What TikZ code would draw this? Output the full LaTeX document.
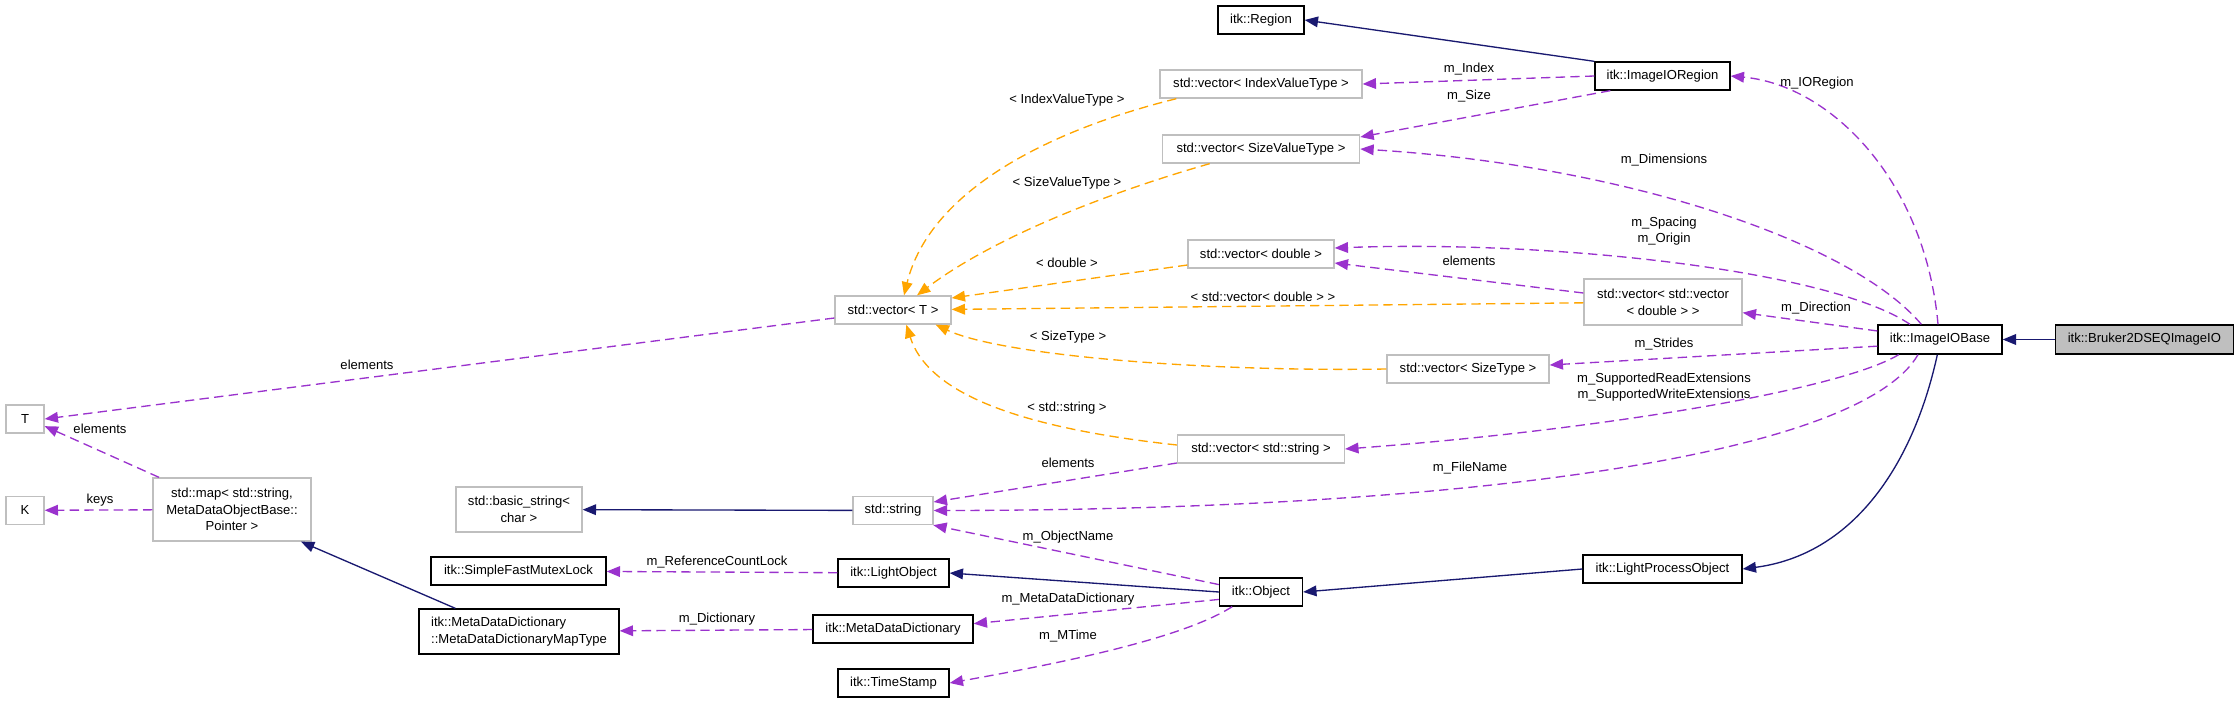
\documentclass[tikz,border=0pt]{standalone}
\usepackage{fontspec}
\setmainfont{Liberation Sans}
\usepackage{xcolor}
\usepackage{tikz}
\usetikzlibrary{positioning, arrows.meta}
\definecolor{inhblue}{HTML}{191970}
\definecolor{usepurple}{HTML}{9A32CD}
\definecolor{tplorange}{HTML}{FFA500}
\definecolor{boxgray}{HTML}{BFBFBF}

\begin{document}
\begin{tikzpicture}[
    x=0.75pt, y=-0.75pt,
    font=\fontsize{9.8}{12.5}\selectfont,
    docnode/.style={rectangle, draw=black, line width=1pt, fill=white, inner sep=0pt, minimum height=21pt, align=center},
    extnode/.style={rectangle, draw=boxgray, line width=1pt, fill=white, inner sep=0pt, minimum height=21pt, align=center},
    mainnode/.style={docnode, fill=boxgray},
    inherit/.style={draw=inhblue, line width=1pt, -{Triangle[length=10pt, width=8pt]}},
    member/.style={draw=usepurple, line width=1pt, dash pattern=on 7pt off 4pt, -{Triangle[length=10pt, width=8pt]}},
    templ/.style={draw=tplorange, line width=1pt, dash pattern=on 7pt off 4pt, -{Triangle[length=10pt, width=8pt]}},
    edgelabel/.style={inner sep=0pt, align=center},
    ]

    \useasboundingbox (0,0) rectangle (2237,703);

    \node[extnode, minimum width=28.5pt] (T) at (25,419) {T};
    \node[extnode, minimum width=28.5pt, below=46.5pt of T] (K) {K};
    \node[extnode, minimum width=118.5pt, minimum height=47.25pt] (map) at (232,509.5) {std::map< std::string,\\MetaDataObjectBase::\\Pointer >};
    \node[extnode, minimum width=94.5pt, minimum height=33.75pt] (bstring) at (519,509.5) {std::basic\_string<\\char >};
    \node[docnode, minimum width=131.25pt] (mutexlock) at (518.5,571) {itk::SimpleFastMutexLock};
    \node[docnode, minimum width=150pt, minimum height=33.75pt, align=left] (maptype) at (519,631.5) {itk::MetaDataDictionary\\::MetaDataDictionaryMapType};
    \node[extnode, minimum width=87pt] (vecT) at (893,310) {std::vector< T >};
    \node[extnode, minimum width=60pt] (string) at (893,510.5) {std::string};
    \node[docnode, minimum width=83.25pt] (lightobj) at (893.5,573) {itk::LightObject};
    \node[docnode, minimum width=120pt] (mdd) at (893,629) {itk::MetaDataDictionary};
    \node[docnode, minimum width=83.25pt] (timestamp) at (893.5,683) {itk::TimeStamp};
    \node[docnode, minimum width=64.5pt] (region) at (1261,20) {itk::Region};
    \node[extnode, minimum width=151.5pt] (vecIndex) at (1261,84) {std::vector< IndexValueType >};
    \node[extnode, minimum width=148pt] (vecSize) at (1261,149) {std::vector< SizeValueType >};
    \node[extnode, minimum width=109.5pt] (vecDouble) at (1261,254) {std::vector< double >};
    \node[extnode, minimum width=125.25pt] (vecString) at (1261,449) {std::vector< std::string >};
    \node[docnode, minimum width=62.25pt] (object) at (1261,592) {itk::Object};
    \node[docnode, minimum width=101.25pt] (ioregion) at (1662.5,76) {itk::ImageIORegion};
    \node[extnode, minimum width=118.5pt, minimum height=34.5pt] (vecVec) at (1663,302) {std::vector< std::vector\\< double > >};
    \node[extnode, minimum width=121.5pt] (vecSizeType) at (1468,369) {std::vector< SizeType >};
    \node[docnode, minimum width=119.25pt] (lpo) at (1662.5,569) {itk::LightProcessObject};
    \node[docnode, minimum width=93pt, minimum height=21.75pt] (iobase) at (1940,339.5) {itk::ImageIOBase};
    \node[mainnode, minimum width=133.5pt, minimum height=21.75pt, right=39pt of iobase] (bruker) {itk::Bruker2DSEQImageIO};

    \draw[inherit] (bruker) -- (iobase);
    \draw[inherit] ([xshift=-2pt]iobase.south) .. controls (1912,470) and (1850,555) .. (lpo.east);
    \draw[inherit] (lpo.west) -- (object.east);
    \draw[inherit] (object.west) -- (lightobj.east);
    \draw[inherit] (ioregion.north west) -- (region.east);
    \draw[inherit] (string) -- (bstring);
    \draw[inherit] (maptype.160) -- (map.-25);

    \draw[member] (ioregion.west) -- (vecIndex.east);
    \draw[member] ([xshift=12pt]ioregion.south west) -- ([yshift=9pt]vecSize.east);
    \draw[member] ([xshift=-1.5pt]iobase.north) .. controls (1925,180) and (1830,85) .. (ioregion.east);
    \draw[member] ([xshift=-14pt]iobase.north) .. controls (1850,240) and (1620,165) .. (vecSize.east);
    \draw[member] ([xshift=-22.5pt]iobase.north) .. controls (1830,270) and (1550,240) .. ([yshift=4.5pt]vecDouble.east);
    \draw[member] ([yshift=6.75pt]vecVec.west) -- ([yshift=-6.75pt]vecDouble.east);
    \draw[member] ([yshift=6.4pt]iobase.west) -- ([yshift=-8pt]vecVec.east);
    \draw[member] ([yshift=-5pt]iobase.west) -- ([yshift=3pt]vecSizeType.east);
    \draw[member] ([xshift=-31pt]iobase.south) .. controls (1840,390) and (1600,430) .. (vecString.east);
    \draw[member] ([xshift=-16.5pt]iobase.south) .. controls (1860,455) and (1470,510) .. (string.east);
    \draw[member] ([yshift=-10.5pt]vecString.west) -- ([yshift=6.4pt]string.east);
    \draw[member] (object.170) -- (string.-20);
    \draw[member] ([yshift=-6pt]vecT.west) -- (T.east);
    \draw[member] ([xshift=5pt]map.north west) -- (T.-20);
    \draw[member] (map) -- (K);
    \draw[member] (lightobj) -- (mutexlock);
    \draw[member] (mdd) -- (maptype);
    \draw[member] (object.-170) -- ([yshift=4pt]mdd.east);
    \draw[member] ([xshift=10pt]object.south west) .. controls (1180,640) and (1050,665) .. (timestamp.east);

    \draw[templ] ([xshift=12.75pt]vecIndex.south west) .. controls (1050,130) and (930,190) .. ([xshift=8.25pt]vecT.north);
    \draw[templ] ([xshift=36pt]vecSize.south west) .. controls (1100,195) and (990,240) .. ([xshift=18pt]vecT.north);
    \draw[templ] ([yshift=-8.25pt]vecDouble.west) -- ([yshift=9pt]vecT.east);
    \draw[templ] (vecVec) -- (vecT);
    \draw[templ] (vecSizeType.west) .. controls (1200,372) and (1000,355) .. ([xshift=32pt]vecT.south);
    \draw[templ] ([yshift=3pt]vecString.west) .. controls (1040,430) and (930,400) .. ([xshift=10pt]vecT.south);

    \node[edgelabel] (lIndex) at (1469,69) {m\_Index};
    \node[edgelabel] (lSize) at (1469,96) {m\_Size};
    \node[edgelabel] (lIORegion) at (1817,83) {m\_IORegion};
    \node[edgelabel] (lDimensions) at (1664,160) {m\_Dimensions};
    \node[edgelabel] (lSpacing) at (1664,231) {m\_Spacing\\m\_Origin};
    \node[edgelabel] (lVecElements) at (1469,261) {elements};
    \node[edgelabel] (lDirection) at (1816,308) {m\_Direction};
    \node[edgelabel] (lStrides) at (1664,344) {m\_Strides};
    \node[edgelabel] (lExtensions) at (1664,387) {m\_SupportedReadExtensions\\m\_SupportedWriteExtensions};
    \node[edgelabel] (lFileName) at (1470,468) {m\_FileName};
    \node[edgelabel] (lStrElements) at (1068,463) {elements};
    \node[edgelabel] (lObjectName) at (1068,537) {m\_ObjectName};
    \node[edgelabel] (lTElements) at (367,365) {elements};
    \node[edgelabel] (lMapElements) at (100,429) {elements};
    \node[edgelabel] (lKeys) at (100,500) {keys};
    \node[edgelabel] (lRefLock) at (717,562) {m\_ReferenceCountLock};
    \node[edgelabel] (lDictionary) at (717,619) {m\_Dictionary};
    \node[edgelabel] (lMetaDict) at (1068,599) {m\_MetaDataDictionary};
    \node[edgelabel] (lMTime) at (1068,636) {m\_MTime};
    \node[edgelabel] (lIndexType) at (1067,100) {< IndexValueType >};
    \node[edgelabel] (lSizeValType) at (1067,183) {< SizeValueType >};
    \node[edgelabel] (lDouble) at (1067,263) {< double >};
    \node[edgelabel] (lVecDouble) at (1263,297) {< std::vector< double > >};
    \node[edgelabel] (lSizeType) at (1068,337) {< SizeType >};
    \node[edgelabel] (lStdString) at (1067,408) {< std::string >};
\end{tikzpicture}
\end{document}
